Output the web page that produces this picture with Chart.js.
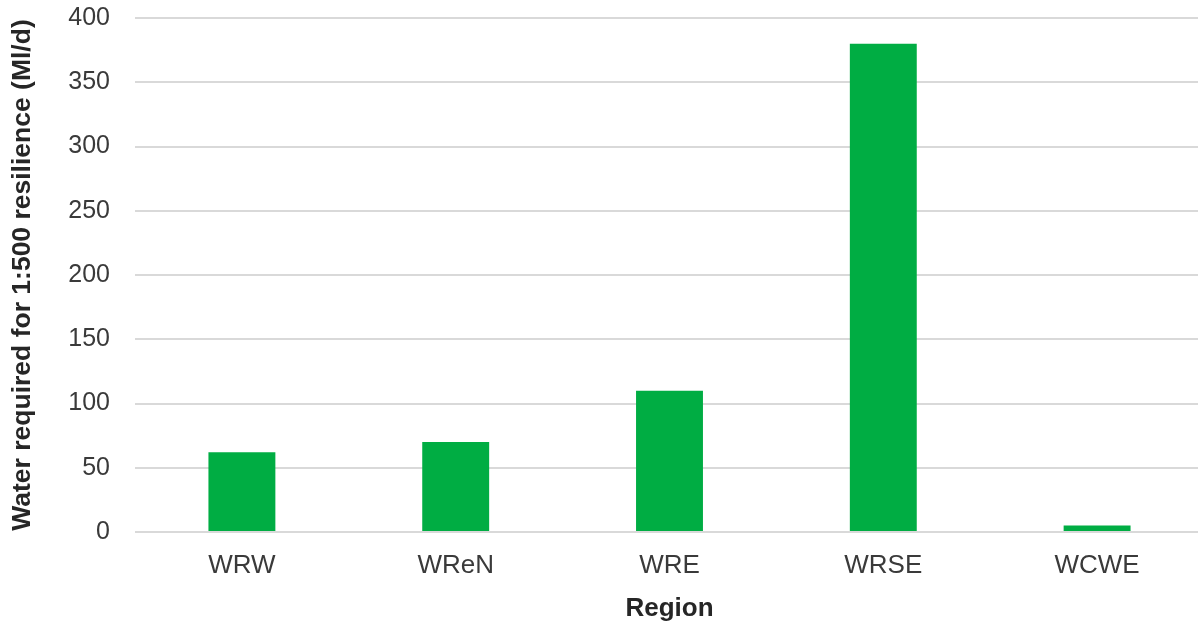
<!DOCTYPE html>
<html>
<head>
<meta charset="utf-8">
<script src="https://cdn.jsdelivr.net/npm/chart.js@4"></script>
<style>
  html, body { margin: 0; padding: 0; background: #fff; overflow: hidden; }
  #wrap { width: 1204px; height: 622px; position: relative; }
</style>
</head>
<body>
<div id="wrap"><canvas id="myChart"></canvas></div>
<script>
let regions = ['WRW', 'WReN', 'WRE', 'WRSE', 'WCWE'];
let waterNeeded = [62, 70, 110, 380, 5];
let yTicks = [0, 50, 100, 150, 200, 250, 300, 350, 400];

Chart.defaults.font.family = '"Liberation Sans", Arial, sans-serif';
Chart.defaults.animation = false;

let ctx = document.getElementById('myChart').getContext('2d');

let chart = new Chart(ctx, {
    type: 'bar',
    data: {
        labels: regions,
        datasets: [{
            data: waterNeeded,
            backgroundColor: '#00AD43',
            barPercentage: 0.313,
            categoryPercentage: 1
        }]
    },
    options: {
        responsive: true,
        maintainAspectRatio: false,
        layout: { padding: { top: 18, left: 0, right: 0, bottom: 0 } },
        plugins: {
            legend: { display: false },
            tooltip: { enabled: false }
        },
        scales: {
            x: {
                grid: { display: false },
                border: { display: false },
                ticks: {
                    color: '#3a3a3a',
                    font: { size: 26 },
                    padding: 10
                },
                title: {
                    display: true,
                    text: 'Region',
                    color: '#262626',
                    font: { size: 26, weight: 'bold' },
                    padding: { top: 0, bottom: -2 }
                },
                afterFit: s => { s.height = 90; }
            },
            y: {
                min: 0,
                max: 400,
                afterBuildTicks: s => { s.ticks = yTicks.map(v => ({ value: v })); },
                grid: { color: '#d9d9d9', lineWidth: 2, drawTicks: false },
                border: { display: false },
                ticks: {
                    color: '#3a3a3a',
                    font: { size: 25 },
                    padding: 25
                },
                title: {
                    display: true,
                    text: 'Water required for 1:500 resilience (Ml/d)',
                    color: '#262626',
                    font: { size: 26.5, weight: 'bold' },
                    padding: { top: 7, bottom: 0 }
                },
                // keep the plot top fixed by the layout padding only
                afterFit: s => {
                    s.width = 135;
                    s.paddingTop = 0;
                    s.paddingBottom = 0;
                }
            }
        }
    }
});
</script>
</body>
</html>
